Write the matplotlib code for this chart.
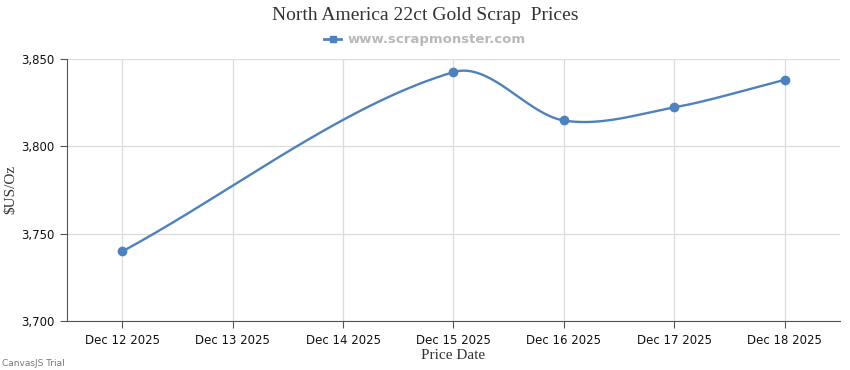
import numpy as np
import matplotlib.pyplot as plt
from matplotlib.lines import Line2D

# price data (days with no price are simply absent)
tick_labels = ["Dec 12 2025", "Dec 13 2025", "Dec 14 2025", "Dec 15 2025",
               "Dec 16 2025", "Dec 17 2025", "Dec 18 2025"]
price_days = [12, 15, 16, 17, 18]
prices = [3739.8, 3842.5, 3814.8, 3822.3, 3838.1]

col = "#4F81BC"


def spline(xs, ys, n=40):
    # smooth bezier through the points, control x kept inside each segment
    xs = np.asarray(xs, float); ys = np.asarray(ys, float)
    m = len(xs)
    slope = np.zeros(m)
    for i in range(m):
        a = max(i - 1, 0); b = min(i + 1, m - 1)
        slope[i] = (ys[b] - ys[a]) / (xs[b] - xs[a])
    px, py = [xs[0]], [ys[0]]
    for i in range(m - 1):
        h = xs[i+1] - xs[i]
        c1x, c1y = xs[i] + h/3, ys[i] + slope[i]*h/3
        c2x, c2y = xs[i+1] - h/3, ys[i+1] - slope[i+1]*h/3
        t = np.linspace(0, 1, n)[1:]
        bx = (1-t)**3*xs[i] + 3*(1-t)**2*t*c1x + 3*(1-t)*t**2*c2x + t**3*xs[i+1]
        by = (1-t)**3*ys[i] + 3*(1-t)**2*t*c1y + 3*(1-t)*t**2*c2y + t**3*ys[i+1]
        px.extend(bx); py.extend(by)
    return np.array(px), np.array(py)


x = np.array(price_days) - 12
sx, sy = spline(x, prices)

fig = plt.figure(figsize=(8.5, 3.7), dpi=100)
ax = fig.add_axes([67/850, 49/370, 773/850, 262/370])

ax.plot(sx, sy, color=col, lw=1.7, zorder=3)
ax.plot(x, prices, "o", color=col, ms=6, zorder=4)

ax.set_xlim(-0.5, 6.5)
ax.set_ylim(3700, 3850)
ax.set_yticks([3700, 3750, 3800, 3850])
ax.set_yticklabels(["3,700", "3,750", "3,800", "3,850"])
ax.set_xticks(range(7))
ax.set_xticklabels(tick_labels)
ax.grid(True, color="#dcdcdc", lw=0.9)
ax.set_axisbelow(True)
for s in ["top", "right"]:
    ax.spines[s].set_visible(False)
ax.spines["left"].set_color("#555555")
ax.spines["bottom"].set_color("#555555")
ax.tick_params(axis="both", length=5, color="#555555", labelcolor="#111111",
               pad=4)
for lab in ax.get_xticklabels() + ax.get_yticklabels():
    lab.set_family("DejaVu Sans")
    lab.set_fontsize(8.5)

ax.set_xlabel("Price Date", family="Liberation Serif", fontsize=11,
              color="#333333", labelpad=2)
ax.set_ylabel("$US/Oz", family="Liberation Serif", fontsize=11,
              color="#333333")
ax.yaxis.set_label_coords(-0.064, 0.5)

fig.text(0.5, 1 - 16/370, "North America 22ct Gold Scrap  Prices",
         ha="center", va="center", family="Liberation Serif", fontsize=14,
         color="#333333")
handle = Line2D([], [], color=col, lw=2, marker="s", ms=5)
fig.legend([handle], ["www.scrapmonster.com"], loc="center",
           bbox_to_anchor=(0.5, 1 - 40/370), frameon=False, handlelength=1.3,
           handletextpad=0.5, prop={"family": "DejaVu Sans", "size": 9.5,
                                    "weight": "bold"}, labelcolor="#b8b8b8")
fig.text(2/850, 6/370, "CanvasJS Trial", fontsize=6.5, color="#777777",
         family="DejaVu Sans", va="center")

fig.savefig("out.png", dpi=100)
